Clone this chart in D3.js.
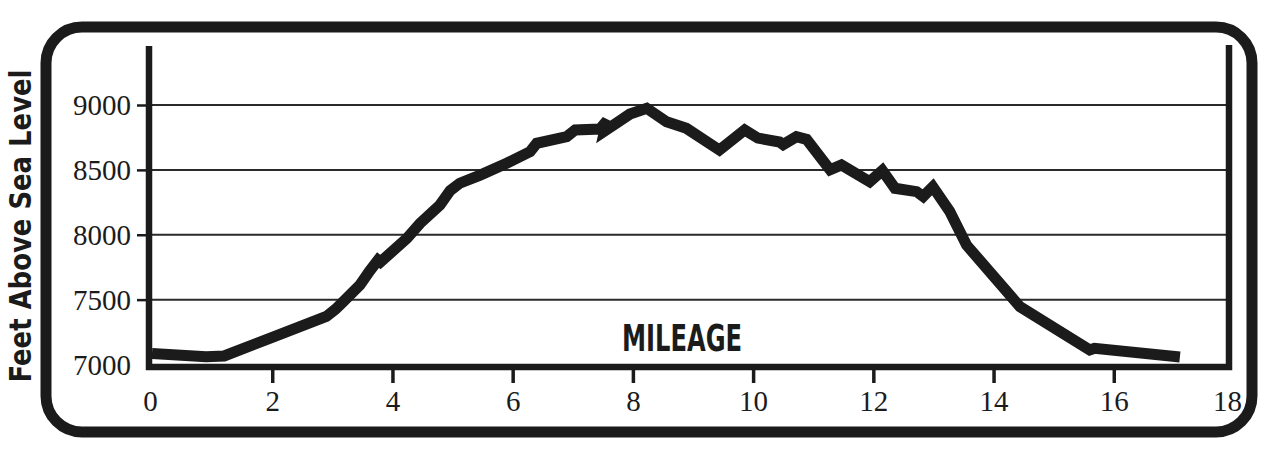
<!DOCTYPE html>
<html>
<head>
<meta charset="utf-8">
<script src="https://cdn.jsdelivr.net/npm/d3@7"></script>
<style>
  html, body { margin: 0; padding: 0; background: #fff; }
  svg { display: block; }
</style>
</head>
<body>
<svg id="chart" width="1280" height="459"></svg>
<script>
// ---- data ----
const miles = [0, 0.9, 1.2, 2.0, 2.9, 3.05, 3.18, 3.46, 3.62, 3.76, 3.80, 4.24, 4.46, 4.79, 4.96, 5.12, 5.46, 5.90, 6.29, 6.40, 6.90, 7.04, 7.45, 7.57, 7.53, 7.95, 8.23, 8.56, 8.89, 9.44, 9.86, 10.08, 10.44, 10.50, 10.72, 10.89, 11.28, 11.47, 11.94, 12.15, 12.36, 12.72, 12.83, 12.99, 13.27, 13.55, 14.44, 15.60, 15.68, 17.10];
const elevation = [7085, 7060, 7066, 7210, 7370, 7425, 7484, 7613, 7720, 7805, 7790, 7972, 8088, 8229, 8340, 8397, 8460, 8551, 8640, 8705, 8756, 8807, 8815, 8880, 8800, 8930, 8975, 8871, 8820, 8653, 8807, 8745, 8715, 8695, 8756, 8735, 8500, 8538, 8409, 8495, 8358, 8332, 8295, 8370, 8180, 7921, 7445, 7112, 7125, 7058];
const xTicks = [0, 2, 4, 6, 8, 10, 12, 14, 16, 18];
const yTicks = [7000, 7500, 8000, 8500, 9000];
const xTitle = "MILEAGE";
const yTitle = "Feet Above Sea Level";

const svg = d3.select("#chart");
const ink = "#1b1b1b";

const x = d3.scaleLinear().domain([0, 18]).range([152, 1234]);
const y = d3.scaleLinear().domain([7000, 9000]).range([364.5, 105]);

// outer rounded frame
svg.append("rect")
  .attr("x", 46).attr("y", 27).attr("width", 1206).attr("height", 405)
  .attr("rx", 36).attr("ry", 36)
  .attr("fill", "none").attr("stroke", ink).attr("stroke-width", 11);

// gridlines
svg.append("g").selectAll("line")
  .data(yTicks.filter(d => d > 7000))
  .join("line")
  .attr("x1", 150).attr("x2", 1227)
  .attr("y1", d => y(d)).attr("y2", d => y(d))
  .attr("stroke", "#2a2a2a").attr("stroke-width", 2);

// y axis
const yAxis = svg.append("g")
  .attr("transform", "translate(146,0)")
  .call(d3.axisLeft(y).tickValues(yTicks).tickSize(9).tickPadding(6).tickFormat(d3.format("d")));
yAxis.select(".domain").remove();
yAxis.selectAll(".tick line").attr("stroke", ink).attr("stroke-width", 2.5)
  .filter(d => d === 7000).remove();
yAxis.selectAll(".tick text")
  .attr("font-family", "'Liberation Serif', 'DejaVu Serif', serif")
  .attr("font-size", 29).attr("fill", ink).attr("dy", "0.34em");

// x axis
const xAxis = svg.append("g")
  .attr("transform", "translate(0,370)")
  .call(d3.axisBottom(x).tickValues(xTicks).tickSize(13).tickPadding(7).tickFormat(d3.format("d")));
xAxis.select(".domain").remove();
xAxis.selectAll(".tick line").attr("stroke", ink).attr("stroke-width", 3.5)
  .filter(d => d === 0 || d === 18).remove();
xAxis.selectAll(".tick text")
  .attr("font-family", "'Liberation Serif', 'DejaVu Serif', serif")
  .attr("font-size", 29).attr("fill", ink)
  .attr("dx", d => d === 18 ? -7 : (d === 0 ? -2 : 0));

// plot frame lines (left, bottom, right)
svg.append("path")
  .attr("d", "M149,46 L149,367 L1229,367 L1229,45")
  .attr("fill", "none").attr("stroke", ink).attr("stroke-width", 6.5)
  .attr("stroke-linejoin", "miter");

// elevation profile
const pts = miles.map((m, i) => [m, elevation[i]]);
svg.append("path")
  .datum(pts)
  .attr("d", d3.line().x(d => x(d[0])).y(d => y(d[1])))
  .attr("fill", "none").attr("stroke", ink).attr("stroke-width", 11)
  .attr("stroke-linejoin", "miter").attr("stroke-miterlimit", 3)
  .attr("stroke-linecap", "butt");

// titles
svg.append("text")
  .attr("x", 682).attr("y", 351)
  .attr("text-anchor", "middle")
  .attr("font-family", "'Liberation Sans Narrow', 'DejaVu Sans Condensed', 'Liberation Sans', sans-serif")
  .attr("font-weight", "bold").attr("font-stretch", "condensed")
  .attr("font-size", 38).attr("fill", ink)
  .attr("textLength", 120).attr("lengthAdjust", "spacingAndGlyphs")
  .text(xTitle);

svg.append("text")
  .attr("transform", "translate(31,226) rotate(-90)")
  .attr("text-anchor", "middle")
  .attr("font-family", "'Liberation Sans Narrow', 'DejaVu Sans Condensed', 'Liberation Sans', sans-serif")
  .attr("font-weight", "bold").attr("font-stretch", "condensed")
  .attr("font-size", 31).attr("fill", ink)
  .attr("textLength", 313).attr("lengthAdjust", "spacingAndGlyphs")
  .text(yTitle);
</script>
</body>
</html>
